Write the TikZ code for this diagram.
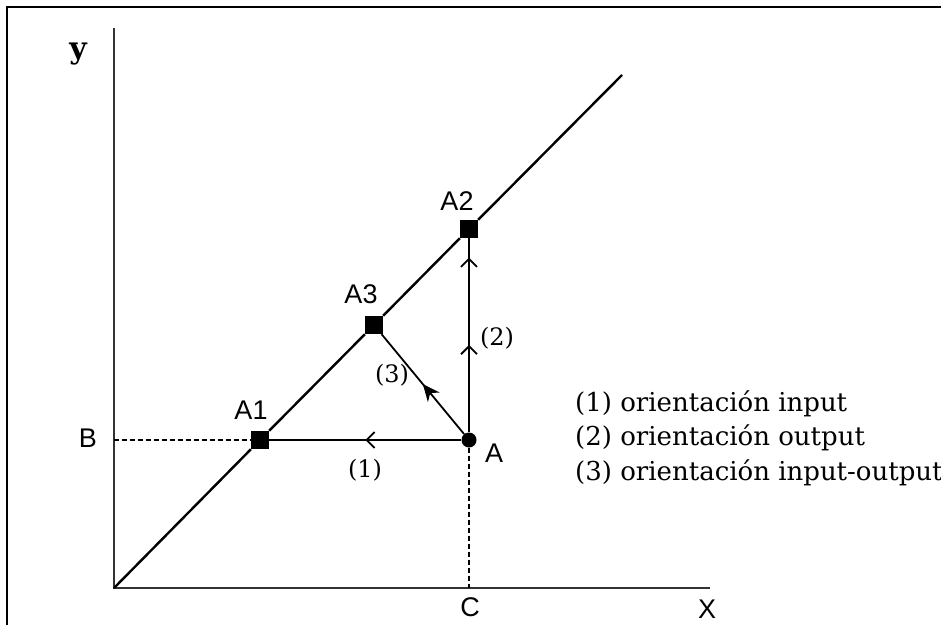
\documentclass[tikz,border=0pt]{standalone}
\usepackage{fontspec}
\setmainfont{DejaVu Serif}
\newfontfamily\lsans{Liberation Sans}
\usetikzlibrary{arrows.meta,decorations.markings}
\tikzset{
  sq/.style={fill=black,draw=none,minimum size=18pt,inner sep=0pt},
  dotA/.style={circle,fill=black,draw=none,minimum size=15pt,inner sep=0pt},
  ax/.style={line width=2.6pt,draw=black!80},
  ln/.style={line width=2.4pt,draw=black},
  dsh/.style={line width=2pt,dash pattern=on 5pt off 3pt},
  lbl/.style={font=\lsans\fontsize{27}{30}\selectfont,inner sep=0pt},
  num/.style={font=\fontsize{24}{28}\selectfont,inner sep=0pt},
  leg/.style={font=\fontsize{26}{30}\selectfont,inner sep=0pt,anchor=west},
  barb/.style={-{Straight Barb[length=8pt,width=16pt,line width=1.8pt]}},
  openarr/.style={postaction={decorate},decoration={markings,
     mark=at position #1 with {\arrow{Straight Barb[length=8pt,width=16pt,line width=1.8pt]}}}},
}
\begin{document}
\begin{tikzpicture}[x=1pt,y=1pt]
\useasboundingbox (0,0) rectangle (941,625);
% frame (top and left edges visible)
\draw[line width=2.2pt] (7,0) -- (7,618) -- (941,618);
% axes
\coordinate (O) at (114,37);
\coordinate (Ytop) at (114,597);
\coordinate (Xend) at (710,37);
\coordinate (Dend) at (622,550);
\draw[ax] (Ytop) -- (O) -- (Xend);
% points
\node[sq] (A1) at (260,185) {};
\node[sq] (A3) at (374,300) {};
\node[sq] (A2) at (469,396) {};
\node[dotA] (A) at (469,185) {};
\coordinate (B) at (114,185);
\coordinate (C) at (469,37);
% diagonal
\draw[ln] (O) -- (A1) -- (A3) -- (A2) -- (Dend);
% dashed guides
\draw[dsh] (B) -- (A1);
\draw[dsh] (A) -- (C);
% orientation paths
\draw[ln,line width=2pt,openarr=0.5] (A) -- (A1);
\draw[ln,line width=2pt,postaction={decorate},decoration={markings,
   mark=at position 0.45 with {\arrow{Straight Barb[length=8pt,width=16pt,line width=1.8pt]}},
   mark=at position 0.9 with {\arrow{Straight Barb[length=8pt,width=16pt,line width=1.8pt]}}}] (A) -- (A2);
\draw[ln,line width=1.8pt,postaction={decorate},decoration={markings,
   mark=at position 0.5 with {\arrow{Stealth[length=17pt,width=15pt]}}}] (A) -- (A3);
% labels
\node[font=\bfseries\fontsize{30}{32}\selectfont,inner sep=0pt] (ylab) at (78,571) {y};
\node[lbl] (Blab) at (88,187) {B};
\node[lbl] (A1lab) at (251,215) {A1};
\node[lbl] (A3lab) at (361,331) {A3};
\node[lbl] (A2lab) at (457,424) {A2};
\node[lbl] (Alab) at (494,172) {A};
\node[lbl] (Clab) at (470,18) {C};
\node[lbl] (Xlab) at (707,16) {X};
\node[num] (n1) at (365,155) {(1)};
\node[num] (n2) at (497,287) {(2)};
\node[num] (n3) at (392,250) {(3)};
% legend
\node[leg] (L1) at (575,221) {(1) orientación input};
\node[leg] (L2) at (575,187) {(2) orientación output};
\node[leg] (L3) at (575,152) {(3) orientación input-output};
\end{tikzpicture}
\end{document}
